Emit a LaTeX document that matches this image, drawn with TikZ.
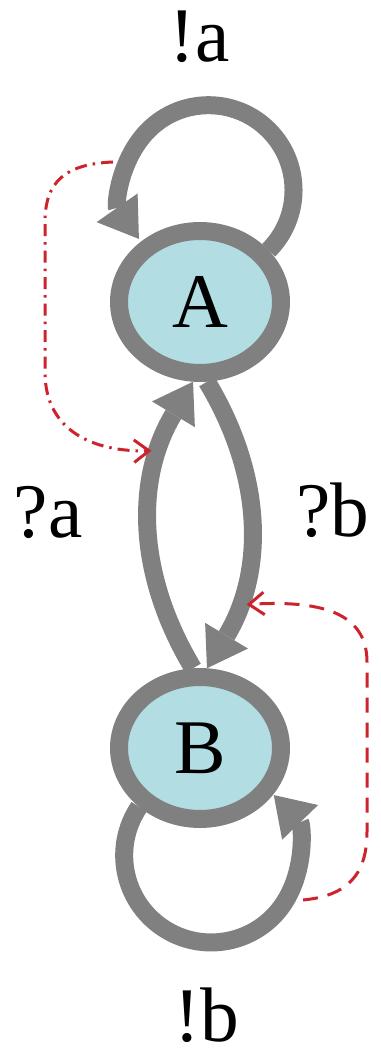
\documentclass[tikz,border=0pt]{standalone}
\usepackage{fontspec}
\setmainfont{Liberation Serif}
\usetikzlibrary{shapes.geometric,arrows.meta}
\definecolor{ringgray}{RGB}{128,128,128}
\definecolor{statefill}{RGB}{178,221,227}
\definecolor{hintred}{RGB}{205,35,45}
\begin{document}
\begin{tikzpicture}[x=0.02cm,y=0.02cm,
  state/.style={ellipse, draw=ringgray, fill=statefill, line width=0.36cm, minimum width=3.24cm, minimum height=2.84cm, inner sep=0pt, font=\fontsize{44}{50}\selectfont},
  trans/.style={draw=ringgray, line width=0.36cm, -{Triangle[length=0.76cm,width=1.0cm,line width=0pt]}},
  lbl/.style={font=\fontsize{44}{50}\selectfont},
  hint/.style={draw=hintred, line width=0.06cm, -{Straight Barb[length=0.3cm,width=0.45cm]}, shorten >=0.2cm}]
\useasboundingbox (0,0) rectangle (380,1062);
\node[state] (A) at (200,760) {A};
\node[state] (B) at (200,314) {B};
\draw[trans] (A.37) arc[start angle=-45, end angle=215, radius=1.7cm];
\draw[trans] (B.224) arc[start angle=146, end angle=404, radius=1.74cm];
\draw[trans] (B.95) to[bend left=31] node[coordinate,pos=0.76] (lhit) {} (A.265);
\draw[trans] (A.275) to[bend left=31] node[coordinate,pos=0.78] (rhit) {} (B.85);
\coordinate (aw) at (113,900);
\coordinate (be) at (303,162);
\draw[hint, dash pattern=on 0.24cm off 0.12cm on 0.05cm off 0.12cm] (aw) .. controls (65,898) and (45,880) .. (45,840) -- (45,690) .. controls (45,630) and (95,610) .. (lhit);
\draw[hint, dash pattern=on 0.3cm off 0.2cm] (be) .. controls (345,166) and (367,185) .. (367,230) -- (367,400) .. controls (367,450) and (320,462) .. (rhit);
\node[lbl] (la) at (200,1025) {!a};
\node[lbl] (qa) at (48,550) {?a};
\node[lbl] (qb) at (333,552) {?b};
\node[lbl] (lb) at (207,47) {!b};
\end{tikzpicture}
\end{document}
